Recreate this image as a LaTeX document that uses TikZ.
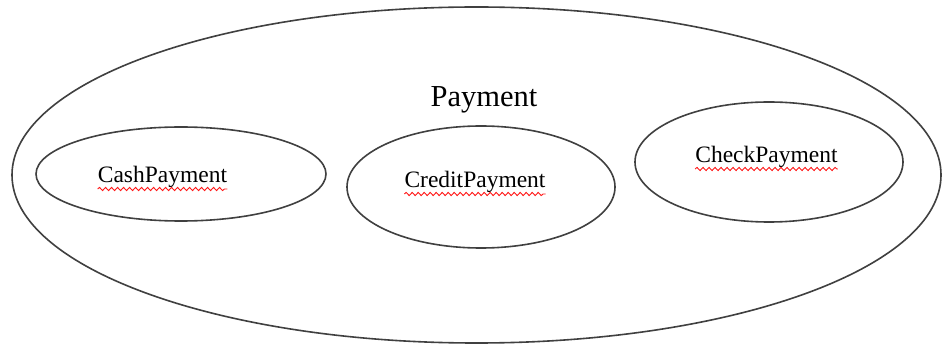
\documentclass[tikz,border=0pt]{standalone}
\usepackage{fontspec}
\setmainfont{Liberation Serif}
\usetikzlibrary{shapes.geometric,decorations.pathmorphing}
\tikzset{
  setbox/.style={draw=black!75, line width=1.6pt, ellipse, inner sep=0pt},
  lbl/.style={inner sep=0pt, anchor=base, font=\fontsize{23.5}{28}\selectfont},
  biglbl/.style={inner sep=0pt, anchor=base, font=\fontsize{30.5}{36}\selectfont},
  squig/.style={draw=red!90!white, line width=0.9pt, decorate, decoration={snake, amplitude=1.6pt, segment length=6pt}}
}
\begin{document}
\begin{tikzpicture}[x=1pt,y=-1pt]
\useasboundingbox[fill=white] (0,0) rectangle (942,347);
\node[setbox, minimum width=929pt, minimum height=336pt] (payment) at (476.5,175) {};
\node[setbox, minimum width=290pt, minimum height=94pt] (cash) at (181,174) {};
\node[setbox, minimum width=268pt, minimum height=122pt] (credit) at (481,187) {};
\node[setbox, minimum width=268pt, minimum height=120pt] (check) at (769,162) {};
\node[biglbl] (paytxt) at (484,107) {Payment};
\node[lbl] (cashtxt) at (162.5,183) {CashPayment};
\node[lbl] (credtxt) at (475,188) {CreditPayment};
\node[lbl] (checktxt) at (766.5,163) {CheckPayment};
\draw[squig] ([yshift=-6pt]cashtxt.base west) -- ([yshift=-6pt]cashtxt.base east);
\draw[squig] ([yshift=-6pt]credtxt.base west) -- ([yshift=-6pt]credtxt.base east);
\draw[squig] ([yshift=-6pt]checktxt.base west) -- ([yshift=-6pt]checktxt.base east);
\end{tikzpicture}
\end{document}
